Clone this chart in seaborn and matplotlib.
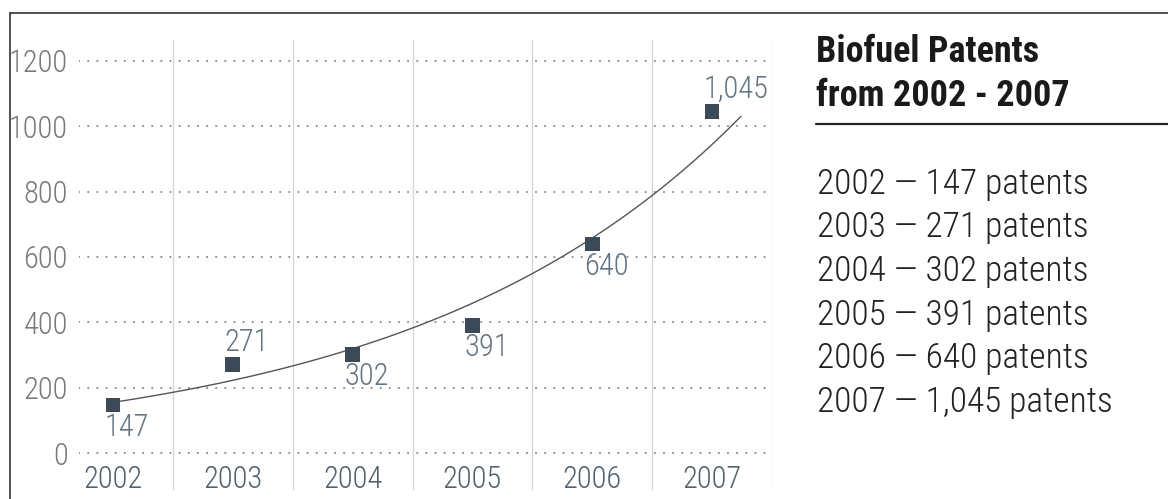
import numpy as np
import pandas as pd
import matplotlib.pyplot as plt
from matplotlib.lines import Line2D
import seaborn as sns

years = [2002, 2003, 2004, 2005, 2006, 2007]
patents = [147, 271, 302, 391, 640, 1045]
labels = ["147", "271", "302", "391", "640", "1,045"]
label_above = [False, True, False, False, False, True]
yticks = [0, 200, 400, 600, 800, 1000, 1200]

df = pd.DataFrame({"year": years, "patents": patents})

# exponential trendline fitted on the data
k, b = np.polyfit(np.array(years) - 2002, np.log(patents), 1)
tx = np.linspace(2002, 2007.24, 100)
trend = pd.DataFrame({"year": tx, "patents": np.exp(b + k * (tx - 2002))})

sns.set_style("white")
plt.rcParams["font.family"] = ["Roboto Condensed", "Fira Sans Condensed",
                               "Barlow Condensed", "DejaVu Sans"]

W, H = 1168, 499
fig = plt.figure(figsize=(W / 100, H / 100), dpi=100)
ax = fig.add_axes([79 / W, 9 / H, (772 - 79) / W, 450 / H])

sns.lineplot(data=trend, x="year", y="patents", ax=ax, color="#555555", lw=1.0)
sns.scatterplot(data=df, x="year", y="patents", ax=ax, marker="s", s=110,
                color="#3b4a56", edgecolor="none", zorder=5)

for x, y, t, up in zip(years, patents, labels, label_above):
    ax.annotate(t, (x, y), xytext=(-6, 16 if up else -16), textcoords="offset points",
                ha="left", va="center", fontsize=22, fontweight="light", color="#627482")

ax.set_xlim(2002 - 34 / 120, 2007.5)
ax.set_ylim(-113, 1264)
ax.set_yticks(yticks)
ax.set_yticklabels([str(v) for v in yticks], fontsize=22, fontweight="light", color="#7a7a7a")
ax.set_xticks(years)
ax.set_xticklabels([str(v) for v in years], fontsize=22, fontweight="light", color="#51616d")
ax.tick_params(axis="y", length=0, pad=8)
ax.tick_params(axis="x", length=0, pad=-18)
ax.set_xlabel("")
ax.set_ylabel("")
for s in ax.spines.values():
    s.set_visible(False)

ax.yaxis.grid(True, color="#808080", lw=1.4, linestyle=(0, (0.1, 4.6)))
for gl in ax.get_ygridlines():
    gl.set_dash_capstyle("round")
ax.xaxis.grid(False)
for xv in np.arange(2002.5, 2008, 1):
    ax.axvline(xv, color="#d0d8df", lw=1.0, zorder=0)
ax.set_axisbelow(True)

# frame
fig.add_artist(Line2D([10 / W, 1], [1 - 13 / H, 1 - 13 / H], color="#333333", lw=1.2))
fig.add_artist(Line2D([10 / W, 10 / W], [0, 1 - 13 / H], color="#333333", lw=1.2))

# side panel
fig.text(816 / W, 1 - 52 / H, "Biofuel Patents", fontsize=26, fontweight="bold",
         color="#1a1a1a", va="center")
fig.text(816 / W, 1 - 96 / H, "from 2002 - 2007", fontsize=26, fontweight="bold",
         color="#1a1a1a", va="center")
fig.add_artist(Line2D([816 / W, 1], [1 - 124 / H, 1 - 124 / H], color="#222222", lw=1.6))
for i, (yr, t) in enumerate(zip(years, labels)):
    fig.text(817 / W, 1 - (184 + 43.6 * i) / H, f"{yr} \u2014 {t} patents",
             fontsize=25.5, fontweight="light", color="#222222", va="center")

fig.savefig("out.png", dpi=100)
